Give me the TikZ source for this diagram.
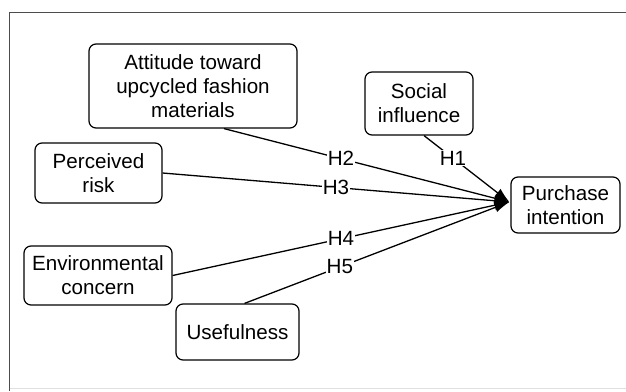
\documentclass[tikz,border=0pt]{standalone}
\usepackage{fontspec}
\setmainfont{Liberation Sans}
\usetikzlibrary{arrows.meta,calc}
\begin{document}
\begin{tikzpicture}[x=1pt,y=-1pt,
  box/.style={draw,line width=1.2pt,rounded corners=7pt,align=center,inner sep=0pt,
    font=\fontsize{20.6}{24}\selectfont},
  conn/.style={line width=1.3pt,-{Latex[length=15pt,width=10pt]}},
  hlab/.style={fill=white,inner sep=1pt,font=\fontsize{20.6}{24}\selectfont}]
\useasboundingbox (0,0) rectangle (626,391);
\draw[line width=1.2pt,black!70] (9.5,391) -- (9.5,12.5) -- (626,12.5);
\draw[line width=0.8pt,black!12] (9.5,388.5) -- (626,388.5);
\node[box,minimum width=208pt,minimum height=84pt] (att) at (193,86) {Attitude toward\\upcycled fashion\\materials};
\node[box,minimum width=108pt,minimum height=63pt] (soc) at (419,103.5) {Social\\influence};
\node[box,minimum width=127pt,minimum height=60pt] (per) at (98.5,173) {Perceived\\risk};
\node[box,minimum width=109pt,minimum height=56pt] (pur) at (565.5,205) {Purchase\\intention};
\node[box,minimum width=148pt,minimum height=59pt] (env) at (98,275.5) {Environmental\\concern};
\node[box,minimum width=123pt,minimum height=56pt] (use) at (237.5,332) {Usefulness};
\coordinate (tip) at ($(pur.west)+(-1,-3)$);
\draw[conn] ($(soc.south)+(5,0)$) -- node[hlab,pos=0.34] {H1} (tip);
\draw[conn] ($(att.south)+(31,0)$) -- node[hlab,pos=0.41] {H2} (tip);
\draw[conn] (per.east) -- node[hlab,pos=0.5] {H3} (tip);
\draw[conn] (env.east) -- node[hlab,pos=0.5] {H4} (tip);
\draw[conn] ($(use.north)+(7,0)$) -- node[hlab,pos=0.36] {H5} (tip);
\end{tikzpicture}
\end{document}
